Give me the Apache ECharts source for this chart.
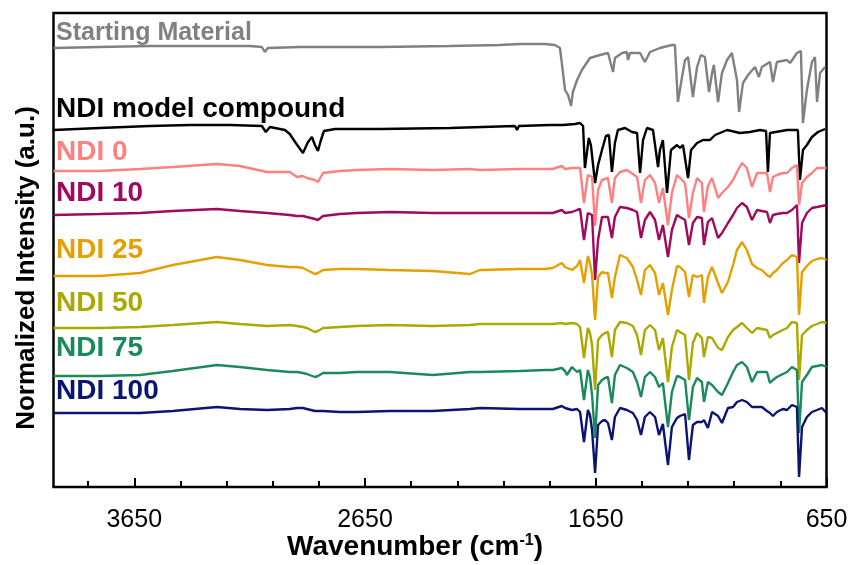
<!DOCTYPE html>
<html>
<head>
<meta charset="utf-8">
<script src="https://cdn.jsdelivr.net/npm/echarts@6.0.0/dist/echarts.min.js"></script>
<style>
  html, body { margin: 0; padding: 0; background: #fff; }
  #ftir { width: 854px; height: 565px; }
</style>
</head>
<body>
<div id="ftir"></div>
<script>
// wavenumber grid (cm-1) shared by the NDI polymer spectra
var wnPolymer = [4000,3800,3625,3483,3292,3192,3075,2976,2945,2919,2902,2867,2854,2832,2759,2685,2542,2356,2195,2152,1979,1870,1836,1797,1783,1775,1753,1731,1718,1701,1684,1675,1666,1653,1640,1623,1610,1597,1580,1567,1545,1515,1489,1471,1454,1437,1415,1393,1376,1359,1337,1320,1298,1285,1263,1246,1229,1211,1190,1181,1164,1146,1120,1103,1077,1055,1038,1016,995,973,951,930,908,895,882,865,839,821,800,778,769,756,735,713,691,670,650];

// stacked (offset) normalized intensities, a.u.
var ndi0 = [316,316,318,320,323,321,315,315,310,311,309,307,305,314,316,317,318,317,318,317,318,318,318,321,318,318,319,319,319,284,312,311,310,261,297,307,308,309,284,309,315,317,313,310,284,307,312,304,284,299,262,294,312,309,304,269,294,309,304,275,301,309,289,294,300,307,315,324,319,300,314,314,314,295,310,312,314,314,319,322,282,304,310,314,319,319,319];
var ndi10 = [272,273,274,276,278,276,274,272,271,271,270,268,267,271,273,274,275,274,274,274,274,274,274,277,274,274,275,277,278,247,274,273,272,207,247,270,270,270,249,270,280,279,277,275,249,267,275,267,247,262,230,257,272,270,267,242,264,270,269,242,265,269,249,254,264,272,279,284,280,267,277,276,275,264,272,273,274,274,277,282,224,264,274,279,280,281,282];
var ndi25 = [211,211,214,222,230,227,222,220,220,219,217,213,214,217,218,218,217,216,213,217,218,218,219,224,220,218,217,221,227,204,231,224,212,167,210,215,214,214,189,210,232,229,220,207,192,217,222,214,192,204,172,197,221,220,215,190,212,210,212,184,210,220,204,194,205,222,237,245,237,223,219,217,212,210,214,217,224,227,232,230,172,215,221,226,228,229,227];
var ndi50 = [159,159,160,162,165,163,161,162,161,160,159,155,156,159,160,161,162,161,162,163,163,163,163,164,163,161,164,163,160,129,159,154,142,97,147,152,154,155,130,157,165,164,161,152,132,157,162,157,137,149,105,140,157,155,152,107,144,154,149,130,150,149,139,137,150,157,160,164,159,154,159,158,157,149,152,154,157,159,165,164,107,152,157,161,163,165,164];
var ndi75 = [111,111,112,116,122,120,117,115,115,114,113,110,111,114,114,115,115,112,115,115,116,117,117,119,116,112,120,115,117,87,117,110,92,49,102,107,109,110,84,112,122,119,115,105,90,110,115,110,100,104,60,95,111,110,107,67,100,109,105,85,105,102,95,92,104,115,122,125,120,105,115,115,115,104,107,110,113,115,120,117,54,105,112,120,121,122,120];
var ndi100 = [74,74,74,76,80,78,77,78,79,79,78,76,76,76,75,75,76,76,78,79,78,78,78,81,79,77,77,78,75,45,77,72,57,14,62,66,67,64,47,70,79,77,74,67,52,70,75,70,52,63,22,60,69,71,73,27,62,65,65,67,59,75,71,64,79,80,85,87,85,80,80,80,76,74,71,75,78,77,82,80,10,60,70,75,77,79,74];

// starting material
var wnStart = [4000,3800,3582,3366,3149,3097,3084,3071,2932,2585,2282,2065,1979,1870,1827,1805,1797,1783,1770,1757,1749,1731,1710,1675,1632,1597,1575,1567,1536,1515,1510,1502,1458,1437,1415,1372,1320,1307,1294,1276,1263,1250,1229,1211,1194,1177,1159,1146,1138,1120,1103,1081,1060,1038,1029,1012,990,960,943,930,895,882,865,821,808,778,761,752,735,713,700,691,678,656];
var startMat = [439,440,441,441,441,440,435,439,440,440,441,442,443,443,442,439,437,397,392,381,395,407,417,429,432,434,415,429,434,435,427,434,434,425,435,439,442,442,385,410,427,430,390,420,432,430,395,414,422,385,414,427,434,407,375,404,412,420,410,420,425,405,425,427,424,434,436,364,397,425,430,385,414,420];

// NDI model compound
var wnModel = [4000,3800,3582,3409,3236,3097,3080,3062,2997,2976,2950,2919,2897,2880,2867,2854,2841,2828,2780,2585,2282,2000,1991,1983,1849,1792,1740,1718,1705,1697,1680,1671,1653,1640,1623,1606,1593,1580,1567,1554,1523,1493,1471,1458,1445,1428,1402,1380,1372,1359,1341,1324,1298,1285,1272,1250,1237,1211,1185,1155,1133,1112,1081,1025,982,938,912,904,895,821,774,765,752,735,713,687,656];
var model = [357,359,361,362,362,361,355,360,357,353,344,334,345,350,342,336,347,356,358,358,359,361,357,361,362,362,363,364,361,319,349,342,304,322,337,351,352,315,344,357,359,355,354,314,347,359,357,320,337,347,294,337,342,339,342,309,337,344,347,347,352,354,357,354,355,357,356,315,354,357,357,307,337,342,350,355,358];

var majorTicks = [650, 1650, 2650, 3650];
var minorTicks = [850, 1050, 1250, 1450, 1850, 2050, 2250, 2450, 2850, 3050, 3250, 3450, 3850];

function pairs(xs, ys) {
  var out = [];
  for (var i = 0; i < xs.length; i++) out.push([xs[i], ys[i]]);
  return out;
}

var traces = [
  { name: 'Starting Material',  wn: wnStart,   y: startMat, color: '#808080', labelY: 33,  size: 25 },
  { name: 'NDI model compound', wn: wnModel,   y: model,    color: '#000000', labelY: 109, size: 28 },
  { name: 'NDI 0',   wn: wnPolymer, y: ndi0,   color: '#FF8080', labelY: 152, size: 28 },
  { name: 'NDI 10',  wn: wnPolymer, y: ndi10,  color: '#9E0A5E', labelY: 193, size: 28 },
  { name: 'NDI 25',  wn: wnPolymer, y: ndi25,  color: '#E3A000', labelY: 250, size: 28 },
  { name: 'NDI 50',  wn: wnPolymer, y: ndi50,  color: '#ABA800', labelY: 303, size: 28 },
  { name: 'NDI 75',  wn: wnPolymer, y: ndi75,  color: '#1B8A5A', labelY: 348, size: 28 },
  { name: 'NDI 100', wn: wnPolymer, y: ndi100, color: '#0B1470', labelY: 391, size: 28 }
];

var series = [];
var labels = [];
traces.forEach(function (t) {
  series.push({
    name: t.name,
    type: 'line',
    data: pairs(t.wn, t.y),
    showSymbol: false,
    symbol: 'none',
    lineStyle: { color: t.color, width: 2.4 },
    itemStyle: { color: t.color },
    z: 3
  });
  labels.push({
    type: 'text',
    left: 56,
    top: t.labelY - t.size * 0.5,
    style: {
      text: t.name,
      fill: t.color,
      font: 'bold ' + t.size + 'px "Liberation Sans", Arial, sans-serif'
    }
  });
});

// axis titles
labels.push({
  type: 'text',
  x: 415, y: 547,
  style: {
    text: 'Wavenumber (cm{sup|-1})',
    fill: '#000',
    align: 'center',
    verticalAlign: 'middle',
    font: 'bold 28px "Liberation Sans", Arial, sans-serif',
    rich: {
      sup: { fontSize: 16, fontWeight: 'bold', fontFamily: 'Liberation Sans', verticalAlign: 'top', padding: [0, 0, 12, 0] }
    }
  }
});
labels.push({
  type: 'text',
  x: 27, y: 268,
  rotation: Math.PI / 2,
  style: {
    text: 'Normalized Intensity (a.u.)',
    fill: '#000',
    align: 'center',
    verticalAlign: 'middle',
    font: 'bold 26px "Liberation Sans", Arial, sans-serif'
  }
});

var chart = echarts.init(document.getElementById('ftir'), null, { renderer: 'canvas' });
chart.setOption({
  animation: false,
  backgroundColor: '#fff',
  grid: {
    left: 53.5, right: 27.5, top: 13, bottom: 78,
    show: true, borderColor: '#000', borderWidth: 2.5, backgroundColor: 'transparent'
  },
  xAxis: [
    {
      type: 'value',
      min: 650, max: 4000,
      inverse: true,
      axisLine: { show: false },
      splitLine: { show: false },
      axisTick: {
        show: true, inside: true, length: 9,
        customValues: majorTicks,
        lineStyle: { color: '#000', width: 2 }
      },
      axisLabel: {
        customValues: majorTicks,
        formatter: function (v) { return String(v); },
        margin: 21,
        color: '#000',
        fontSize: 25,
        fontFamily: '"Liberation Sans Narrow", "Arial Narrow", "Liberation Sans", sans-serif'
      }
    },
    {
      // minor ticks only
      type: 'value',
      min: 650, max: 4000,
      inverse: true,
      position: 'bottom',
      axisLine: { show: false },
      splitLine: { show: false },
      axisLabel: { show: false },
      axisTick: {
        show: true, inside: true, length: 6,
        customValues: minorTicks,
        lineStyle: { color: '#000', width: 2 }
      }
    }
  ],
  yAxis: {
    type: 'value',
    min: 0, max: 474,
    show: false
  },
  series: series,
  graphic: labels
});
</script>
</body>
</html>
